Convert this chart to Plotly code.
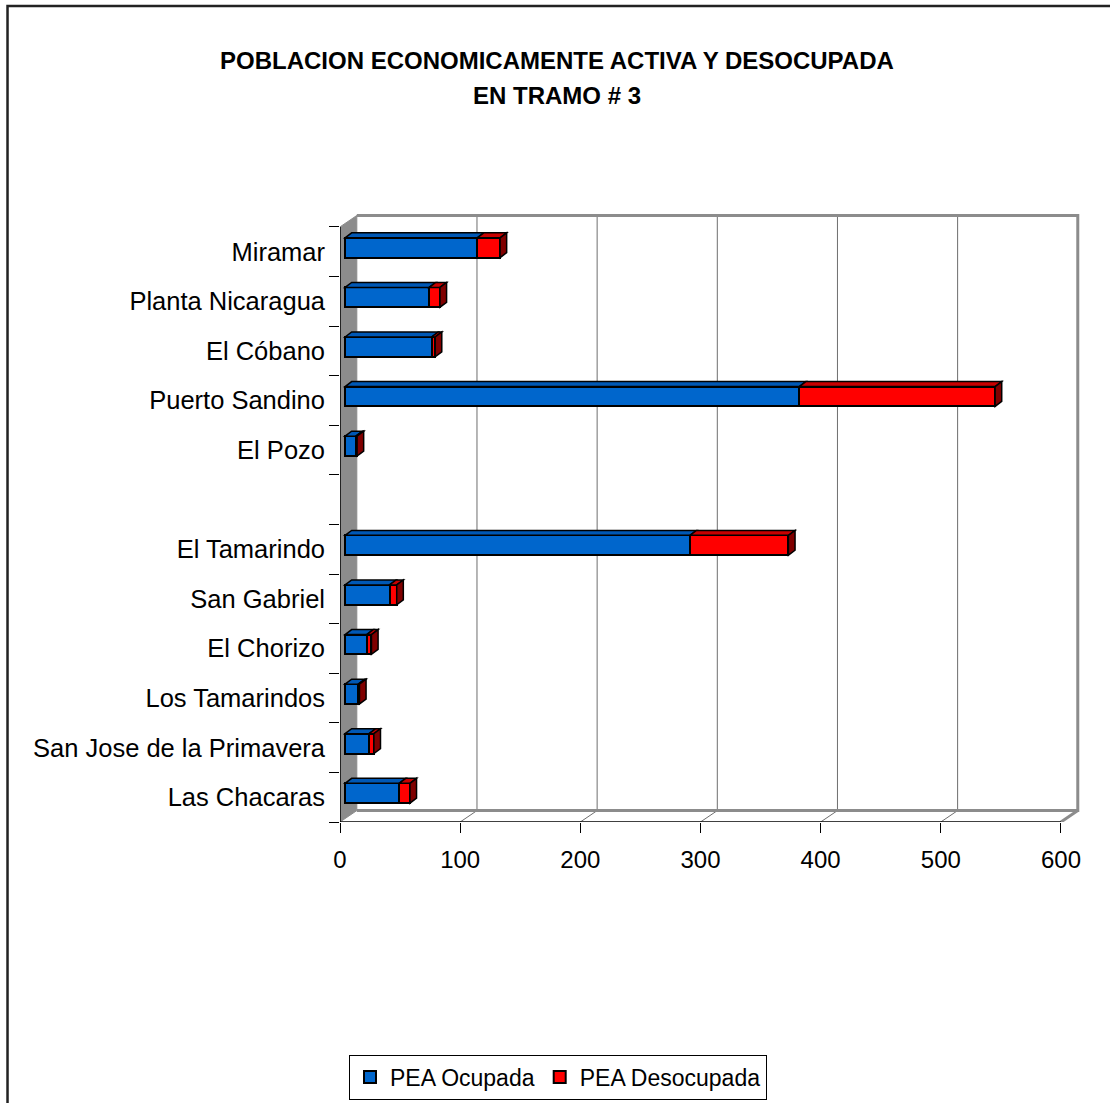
import plotly.graph_objects as go

# ---- data (top to bottom as in the chart; "" is the empty slot) ----
categories = ["Miramar", "Planta Nicaragua", "El Cóbano", "Puerto Sandino", "El Pozo", "",
              "El Tamarindo", "San Gabriel", "El Chorizo", "Los Tamarindos",
              "San Jose de la Primavera", "Las Chacaras"]
pea_ocupada = [110, 70, 72, 378, 9, None, 287, 37, 18, 11, 20, 45]
pea_desocupada = [19, 9, 3, 163, 1, None, 82, 6, 4, 1, 4, 9]
x_ticks = [0, 100, 200, 300, 400, 500, 600]
title_lines = ["POBLACION ECONOMICAMENTE ACTIVA Y DESOCUPADA", "EN TRAMO # 3"]

# ---- geometry / style ----
FONT = "Liberation Sans, Arial, sans-serif"
W, H = 1110, 1103
L_PX, B_PX = 340, 281
PX_PER_UNIT = 721 / 600
SLOT_PX = 49.6
X_MAX = 625
Y_MIN, Y_MAX = -0.5, 11.8
plot_w = X_MAX * PX_PER_UNIT
plot_h = (Y_MAX - Y_MIN) * SLOT_PX
R_PX = W - L_PX - plot_w
T_PX = H - B_PX - plot_h

BLUE, BLUE_TOP = "#0066CC", "#0058B5"
RED, RED_TOP, RED_SIDE, BLUE_SIDE = "#FF0000", "#C80000", "#800000", "#003A80"
WALL_DX, WALL_DY = 14, 0.23      # depth of the chart box (data units)
BAR_DEPTH_SHIFT = 4.2            # bars sit slightly behind the front plane
BAR_DX, BAR_DY = 5.5, 0.1        # depth of bars
BAR_W, BAR_OFF = 0.4, -0.12

n = len(categories)
pos = [n - 1 - i for i in range(n)]

def px2paper_x(px):
    return (px - L_PX) / plot_w

def px2paper_y(py):
    return (H - B_PX - py) / plot_h

fig = go.Figure()
idx = [i for i in range(n) if pea_ocupada[i] is not None]
fig.add_trace(go.Bar(
    y=[pos[i] for i in idx], x=[pea_ocupada[i] for i in idx], orientation="h",
    name="PEA Ocupada", marker=dict(color=BLUE, line=dict(color="black", width=2)),
    width=BAR_W, offset=BAR_OFF, xaxis="x2"))
fig.add_trace(go.Bar(
    y=[pos[i] for i in idx], x=[pea_desocupada[i] for i in idx], orientation="h",
    name="PEA Desocupada", marker=dict(color=RED, line=dict(color="black", width=2)),
    width=BAR_W, offset=BAR_OFF, xaxis="x2"))

shapes = []
grey = "#8C8C8C"
# left wall
shapes.append(dict(type="path", xref="x", yref="y", layer="below",
                   path=f"M 0,{Y_MIN} L {WALL_DX},{Y_MIN+WALL_DY} L {WALL_DX},{11.5+WALL_DY} L 0,11.5 Z",
                   fillcolor=grey, line=dict(color=grey, width=1)))
# back wall gridlines
for v in x_ticks[1:-1]:
    shapes.append(dict(type="line", xref="x", yref="y", layer="below",
                       x0=v + WALL_DX, x1=v + WALL_DX, y0=Y_MIN + WALL_DY, y1=11.5 + WALL_DY,
                       line=dict(color="#6E6E6E", width=1)))
# floor diagonals
for v in x_ticks[1:]:
    shapes.append(dict(type="line", xref="x", yref="y", layer="below",
                       x0=v, x1=v + WALL_DX, y0=Y_MIN, y1=Y_MIN + WALL_DY,
                       line=dict(color="#6E6E6E", width=1)))
# back wall frame
top_back = 11.5 + WALL_DY
xr = x_ticks[-1] + WALL_DX
shapes.append(dict(type="path", xref="x", yref="y", layer="below",
                   path=f"M {WALL_DX},{top_back} L {xr},{top_back} L {xr},{Y_MIN+WALL_DY} L {WALL_DX},{Y_MIN+WALL_DY}",
                   line=dict(color=grey, width=3)))
shapes.append(dict(type="line", xref="x", yref="y", layer="below",
                   x0=x_ticks[-1], x1=xr, y0=Y_MIN, y1=Y_MIN + WALL_DY,
                   line=dict(color=grey, width=3)))
# front axes
shapes.append(dict(type="line", xref="x", yref="y", x0=0, x1=x_ticks[-1], y0=Y_MIN, y1=Y_MIN,
                   line=dict(color="black", width=1.5)))
shapes.append(dict(type="line", xref="x", yref="y", x0=0, x1=0, y0=Y_MIN, y1=11.5,
                   line=dict(color="black", width=1.5)))

# 3D faces for bars (drawn on the bars' own axis)
for i in idx:
    yb = pos[i] + BAR_OFF
    yt = yb + BAR_W
    x0 = 0
    segs = [(pea_ocupada[i], BLUE_TOP, BLUE_SIDE), (pea_desocupada[i], RED_TOP, RED_SIDE)]
    last_side = None
    for v, top_c, side_c in segs:
        if v <= 0:
            continue
        x1 = x0 + v
        shapes.append(dict(type="path", xref="x2", yref="y",
                           path=f"M {x0},{yt} L {x0+BAR_DX},{yt+BAR_DY} L {x1+BAR_DX},{yt+BAR_DY} L {x1},{yt} Z",
                           fillcolor=top_c, line=dict(color="black", width=1.5)))
        x0 = x1
        last_side = side_c
    if last_side:
        shapes.append(dict(type="path", xref="x2", yref="y",
                           path=f"M {x0},{yb} L {x0},{yt} L {x0+BAR_DX},{yt+BAR_DY} L {x0+BAR_DX},{yb+BAR_DY} Z",
                           fillcolor=last_side, line=dict(color="black", width=1.5)))

# outer frame (left and top)
shapes.append(dict(type="path", xref="paper", yref="paper",
                   path=(f"M {px2paper_x(7.5)},{px2paper_y(H + 10)} L {px2paper_x(7.5)},{px2paper_y(6)} "
                         f"L {px2paper_x(W + 10)},{px2paper_y(6)}"),
                   line=dict(color="#222222", width=2.5)))

annotations = [
    dict(text=f"<b>{title_lines[0]}</b>", xref="paper", yref="paper",
         x=px2paper_x(557), y=px2paper_y(60), showarrow=False,
         font=dict(family=FONT, size=24, color="black"), xanchor="center", yanchor="middle"),
    dict(text=f"<b>{title_lines[1]}</b>", xref="paper", yref="paper",
         x=px2paper_x(557), y=px2paper_y(95), showarrow=False,
         font=dict(family=FONT, size=24, color="black"), xanchor="center", yanchor="middle"),
]

fig.update_layout(
    width=W, height=H, barmode="stack",
    paper_bgcolor="white", plot_bgcolor="rgba(0,0,0,0)",
    margin=dict(l=L_PX, r=R_PX, t=T_PX, b=B_PX, autoexpand=False),
    shapes=shapes, annotations=annotations,
    showlegend=True,
    legend=dict(orientation="h", xref="container", yref="container",
                x=558 / W, y=1 - 1077 / H, xanchor="center", yanchor="middle",
                bordercolor="black", borderwidth=1, bgcolor="white",
                font=dict(family=FONT, size=23, color="black"),
                itemwidth=30, traceorder="normal"),
    font=dict(family=FONT, color="black"),
    xaxis2=dict(overlaying="x", range=[-BAR_DEPTH_SHIFT, X_MAX - BAR_DEPTH_SHIFT],
                visible=False, showgrid=False, zeroline=False),
)
fig.update_xaxes(selector=dict(anchor="y"))
fig.layout.xaxis.update(range=[0, X_MAX], tickmode="array", tickvals=x_ticks,
                        ticktext=[str(t) for t in x_ticks], ticks="outside", ticklen=10,
                        tickcolor="black", showgrid=False, zeroline=False, showline=False,
                        tickfont=dict(family=FONT, size=24, color="black"), ticklabelstandoff=6)
fig.update_yaxes(range=[Y_MIN, Y_MAX], tickmode="array", tickvals=pos, ticktext=categories,
                 ticks="", showgrid=False, zeroline=False, showline=False,
                 tickfont=dict(family=FONT, size=25.5, color="black"), ticklabelstandoff=14,
                 minor=dict(tickmode="array", tickvals=[k - 0.5 for k in range(n + 1)],
                            ticks="outside", ticklen=10, tickcolor="black", showgrid=False))

fig.write_html("out.html", config={"displayModeBar": False},
               post_script="document.body.style.margin='0';document.body.style.overflow='hidden';")
